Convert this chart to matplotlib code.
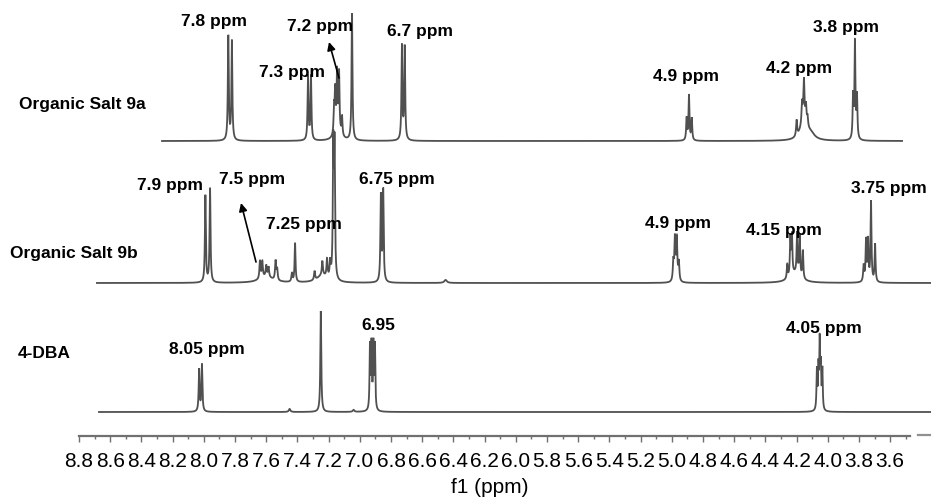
import numpy as np
import matplotlib
matplotlib.use('Agg')
import matplotlib.pyplot as plt
from matplotlib import font_manager as fm
from matplotlib.ticker import FixedLocator

# ---------------- data ----------------
# peak positions (ppm), heights (relative intensity), half-widths (ppm)
salt9a_ppm = [7.843, 7.820, 7.332, 7.313, 7.165, 7.158, 7.146, 7.133, 7.114, 7.14,
              7.050, 6.730, 6.712, 4.905, 4.890, 4.872,
              4.200, 4.165, 4.153, 4.140, 4.130, 4.155, 4.110, 3.838, 3.826, 3.813]
salt9a_h = [104, 99, 64, 64, 26, 41, 59, 59, 19, 8,
            127, 94, 93, 22, 45, 22,
            16, 20, 40, 18, 10, 18, 6, 42, 96, 42]
salt9a_w = ([0.0035] * 9 + [0.025] + [0.0035] * 6 +
            [0.004] * 5 + [0.025, 0.03] + [0.0035] * 3)
salt9a_range = (8.268, 3.524)

salt9b_ppm = [7.990, 7.960, 7.640, 7.625, 7.600, 7.585, 7.540, 7.530, 7.600,
              7.435, 7.415, 7.290, 7.240, 7.210, 7.190, 7.240,
              7.170, 7.162, 6.865, 6.850, 6.450,
              4.990, 4.980, 4.968, 4.955,
              4.260, 4.240, 4.230, 4.197, 4.180, 4.160, 4.210,
              3.770, 3.755, 3.742, 3.723, 3.697]
salt9b_h = [87, 94, 18, 16, 11, 10, 19, 11, 6,
            9, 39, 9, 14, 18, 16, 7,
            130, 128, 86, 91, 3,
            19, 42, 42, 19,
            14, 39, 39, 41, 41, 28, 9,
            16, 41, 41, 80, 38]
salt9b_w = ([0.0035, 0.0035] + [0.004] * 6 + [0.05] +
            [0.004, 0.0035] + [0.004] * 4 + [0.04] +
            [0.0035] * 4 + [0.01] +
            [0.004] * 4 +
            [0.0035] * 6 + [0.04] +
            [0.004] + [0.0035] * 4)
salt9b_range = (8.685, 3.338)

dba_ppm = [8.030, 8.012, 7.450, 7.250, 7.040, 6.935, 6.925, 6.913, 6.903,
           4.070, 4.060, 4.052, 4.045, 4.035]
dba_h = [42, 47, 3, 101, 2, 64, 64, 64, 64, 40, 40, 65, 40, 40]
dba_w = [0.0035, 0.0035, 0.006, 0.0035, 0.006] + [0.003] * 4 + [0.003] * 5
dba_range = (8.672, 3.338)

sample_names = ['Organic Salt 9a', 'Organic Salt 9b', '4-DBA']

peak_labels_9a = ['7.8 ppm', '7.3 ppm', '7.2 ppm', '6.7 ppm', '4.9 ppm', '4.2 ppm', '3.8 ppm']
peak_labels_9b = ['7.9 ppm', '7.5 ppm', '7.25 ppm', '6.75 ppm', '4.9 ppm', '4.15 ppm', '3.75 ppm']
peak_labels_dba = ['8.05 ppm', '6.95', '4.05 ppm']

tick_values = np.round(np.arange(8.8, 3.55, -0.2), 1)
minor_values = np.round(np.arange(8.7, 3.45, -0.2), 1)
x_label = 'f1 (ppm)'

# ---------------- layout ----------------
W, H = 931, 498
fig = plt.figure(figsize=(W / 100, H / 100), dpi=100)
ax = fig.add_axes([0, 0, 1, 1])
PX0, PPX = 79, 156.0          # pixel of 8.8 ppm, pixels per ppm
ax.set_xlim(8.8 + PX0 / PPX, 8.8 - (W - PX0) / PPX)
ax.set_ylim(0, H)


def px2ppm(px):
    return 8.8 - (px - PX0) / PPX


def py(y):
    return H - y


def spectrum(x, ppm, h, w):
    y = np.zeros_like(x)
    for p, hh, ww in zip(ppm, h, w):
        y += hh / (1 + ((x - p) / ww) ** 2)
    return y


line_col = '#505050'
baselines = [py(141), py(283), py(412)]
specs = [(salt9a_ppm, salt9a_h, salt9a_w, salt9a_range),
         (salt9b_ppm, salt9b_h, salt9b_w, salt9b_range),
         (dba_ppm, dba_h, dba_w, dba_range)]
for (pp, hh, ww, rng), b in zip(specs, baselines):
    x = np.linspace(rng[0], rng[1], 16000)
    ax.plot(x, b + spectrum(x, pp, hh, ww), color=line_col, lw=1.3, solid_joinstyle='miter')

# fonts
tick_font = dict(family='Liberation Sans', size=15)
for cand in ['Liberation Sans Narrow', 'Arial Narrow']:
    try:
        fm.findfont(fm.FontProperties(family=cand), fallback_to_default=False)
        tick_font = dict(family=cand, size=17)
        break
    except Exception:
        pass

lab_font = dict(family='Liberation Sans', weight='bold', size=12.5)

# sample names
for name, (x0, y0) in zip(sample_names, [(19, 104), (10, 253), (18, 353)]):
    ax.text(px2ppm(x0), py(y0), name, ha='left', va='center', **lab_font)

# peak labels
pos_9a = [(214, 21), (292, 72), (320, 26), (420, 31), (686, 76), (799, 68), (846, 27)]
pos_9b = [(170, 185), (252, 179), (304, 224), (397, 179), (678, 223), (784, 230), (889, 188)]
pos_dba = [(207, 349), (378, 325), (824, 328)]
for labs, poss in [(peak_labels_9a, pos_9a), (peak_labels_9b, pos_9b), (peak_labels_dba, pos_dba)]:
    for t, (x0, y0) in zip(labs, poss):
        ax.text(px2ppm(x0), py(y0), t, ha='center', va='center', **lab_font)

# arrows
for (tx, ty), (hx, hy) in [((339, 78), (329, 42)), ((256, 262), (241, 203))]:
    ax.annotate('', xy=(px2ppm(hx), py(hy)), xytext=(px2ppm(tx), py(ty)),
                arrowprops=dict(arrowstyle='-|>', color='black', lw=1.2,
                                mutation_scale=12, shrinkA=0, shrinkB=0))

# axis
for s in ['top', 'left', 'right']:
    ax.spines[s].set_visible(False)
sp = ax.spines['bottom']
sp.set_position(('data', py(436)))
sp.set_bounds(8.8, px2ppm(910))
sp.set_color('#707070')
sp.set_linewidth(1.6)
ax.xaxis.set_major_locator(FixedLocator(tick_values))
ax.xaxis.set_minor_locator(FixedLocator(minor_values))
ax.set_xticklabels([f'{v:.1f}' for v in tick_values], **tick_font)
ax.tick_params(axis='x', which='major', direction='out', length=4.5, width=1.0,
               color='#707070', pad=7)
ax.tick_params(axis='x', which='minor', direction='out', length=2.5, width=1.0,
               color='#707070')
ax.set_yticks([])
ax.plot([px2ppm(918), px2ppm(931)], [py(435), py(435)], color='#909090', lw=1.6)
ax.text(px2ppm(490), py(487), x_label, ha='center', va='center', **tick_font)

fig.savefig('out.png', dpi=100)
